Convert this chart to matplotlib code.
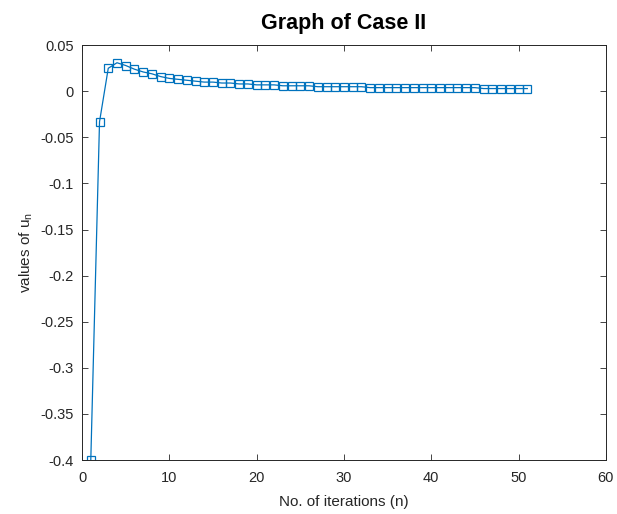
import matplotlib
matplotlib.use('Agg')
import matplotlib.pyplot as plt

plt.rcParams['font.family'] = ['Liberation Sans', 'DejaVu Sans']
plt.rcParams['mathtext.fontset'] = 'custom'
plt.rcParams['mathtext.rm'] = 'Liberation Sans'
plt.rcParams['mathtext.it'] = 'Liberation Sans'

n = list(range(1, 52))
u = [-0.400, -0.033, 0.025, 0.031, 0.028, 0.024, 0.021, 0.019, 0.016, 0.014,
     0.013, 0.012, 0.011, 0.010, 0.010, 0.009, 0.009, 0.008, 0.008, 0.007,
     0.007, 0.007, 0.006, 0.006, 0.006, 0.006, 0.005, 0.005, 0.005, 0.005,
     0.005, 0.005, 0.004, 0.004, 0.004, 0.004, 0.004, 0.004, 0.004, 0.004,
     0.004, 0.004, 0.004, 0.004, 0.004, 0.003, 0.003, 0.003, 0.003, 0.003,
     0.003]

xticks = [0, 10, 20, 30, 40, 50, 60]
yticks = [-0.4, -0.35, -0.3, -0.25, -0.2, -0.15, -0.1, -0.05, 0, 0.05]
ytick_labels = ['-0.4', '-0.35', '-0.3', '-0.25', '-0.2', '-0.15', '-0.1', '-0.05', '0', '0.05']

fig = plt.figure(figsize=(6.17, 5.14), dpi=100)
ax = fig.add_axes([0.133, 0.105, 0.849, 0.807])

ax.plot(n, u, color='#0072BD', linewidth=0.9, marker='s', markersize=5.5,
        markerfacecolor='none', markeredgecolor='#0072BD', markeredgewidth=0.9)

ax.set_xlim(0, 60)
ax.set_ylim(-0.4, 0.05)
ax.set_xticks(xticks)
ax.set_yticks(yticks)
ax.set_yticklabels(ytick_labels)
ax.tick_params(direction='in', top=True, right=True, length=4, width=0.6,
               labelsize=10.5, colors='#262626')
ax.tick_params(axis='x', pad=8)
ax.tick_params(axis='y', pad=6)
for s in ax.spines.values():
    s.set_linewidth(0.7)
    s.set_color('#262626')

ax.set_xlabel('No. of iterations (n)', fontsize=11, color='#262626', labelpad=7)
ax.set_ylabel('values of u$_\\mathrm{n}$', fontsize=11, color='#262626')
ax.set_title('Graph of Case II', fontsize=15.5, fontweight='bold', color='black', pad=12)

fig.savefig('out.png', dpi=100)
